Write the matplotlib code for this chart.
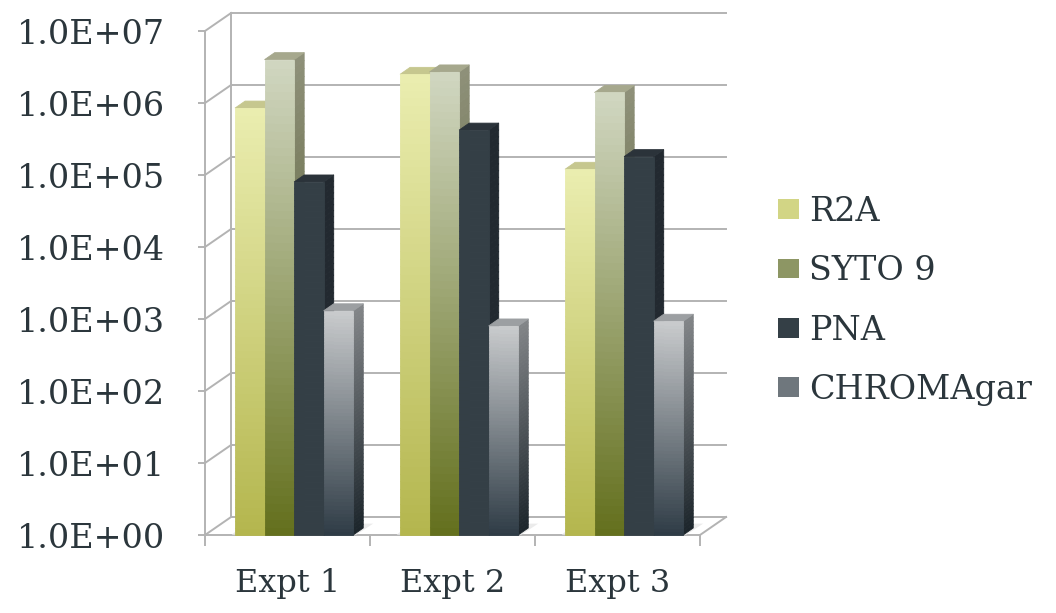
import numpy as np
import matplotlib
matplotlib.use("Agg")
from matplotlib import pyplot as plt
from matplotlib.collections import PolyCollection
from matplotlib.patches import Patch, Polygon
from matplotlib.ticker import FixedLocator, FixedFormatter
from matplotlib.colors import to_rgb

# data (CFU, log scale)
categories = ["Expt 1", "Expt 2", "Expt 3"]
series = ["R2A", "SYTO 9", "PNA", "CHROMAgar"]
r2a = [8.5e5, 2.5e6, 1.2e5]
syto9 = [4.0e6, 2.7e6, 1.4e6]
pna = [8.0e4, 4.2e5, 1.8e5]
chromagar = [1.3e3, 8.0e2, 9.3e2]
ytick_vals = [1e0, 1e1, 1e2, 1e3, 1e4, 1e5, 1e6, 1e7]
ytick_labels = ["1.0E+00", "1.0E+01", "1.0E+02", "1.0E+03",
                "1.0E+04", "1.0E+05", "1.0E+06", "1.0E+07"]

values = [r2a, syto9, pna, chromagar]

# (front top, front bottom, side top, side bottom, top face)
styles = [
    ("#EAEDAF", "#B4B64E", "#BDBF84", "#8A8C3A", "#C6C78F"),
    ("#D0D6C0", "#64701E", "#8E9079", "#434C16", "#A6A88D"),
    ("#343F46", "#343F46", "#222930", "#222930", "#2B333A"),
    ("#C8CACC", "#2F3C46", "#828588", "#1C252B", "#9C9FA2"),
]
legend_colors = ["#D2D585", "#8D9664", "#343F46", "#6F777D"]

text_color = "#2B363C"
grid_color = "#B3B3B3"
font = "DejaVu Serif"

# depth of the 3d look, in axis units (x) and decades (y)
bar_w = 0.179
group_off = 0.182
bar_dx = 0.061
bar_dy = 10 ** (7 / 72.0)
wall_dx = 0.158
wall_dy = 10 ** (18 / 72.0)
nslice = 60


def mix(c1, c2, t):
    a = np.array(to_rgb(c1))
    b = np.array(to_rgb(c2))
    return tuple(a + (b - a) * t)


fig = plt.figure(figsize=(10.56, 6.13), dpi=100)
ax = fig.add_axes([205 / 1056, 78 / 613, 495 / 1056, 504 / 613])
ax.set_yscale("log")
ax.set_xlim(0, 3)
ax.set_ylim(1, 1e7)
for s in ax.spines.values():
    s.set_visible(False)

# walls and floor
gl = dict(color=grid_color, lw=1.4, clip_on=False, zorder=1)
ax.plot([0, 0], [1, 1e7], **gl)
ax.plot([wall_dx, wall_dx], [wall_dy, 1e7 * wall_dy], **gl)
for v in ytick_vals:
    ax.plot([0, wall_dx], [v, v * wall_dy], **gl)
    ax.plot([wall_dx, 3 + wall_dx], [v * wall_dy, v * wall_dy], **gl)
ax.plot([0, 3], [1, 1], **gl)
ax.plot([3, 3 + wall_dx], [1, wall_dy], **gl)

# bars
for g in range(len(categories)):
    x0 = g + group_off
    # soft shadow on the floor
    gw = 4 * bar_w
    sh = Polygon([(x0 - 0.02, 1.01), (x0 + gw + 0.02, 1.01),
                  (x0 + gw + bar_dx + 0.06, bar_dy * 1.15),
                  (x0 + bar_dx, bar_dy * 1.15)],
                 closed=True, facecolor="#EBEBEB", edgecolor="none",
                 zorder=2, clip_on=False)
    ax.add_patch(sh)
    for i, vals in enumerate(values):
        v = vals[g]
        ft, fb, st, sb, tp = styles[i]
        xl = x0 + i * bar_w
        xr = xl + bar_w
        edges = np.logspace(0, np.log10(v), nslice + 1)
        ts = np.linspace(1, 0, nslice)  # 1 at bottom -> dark
        fcols = [mix(ft, fb, t) for t in ts]
        scols = [mix(st, sb, t) for t in ts]
        z = 3 + g * 10 + i * 2
        # side face
        side = [[(xr, edges[k]), (xr + bar_dx, edges[k] * bar_dy),
                 (xr + bar_dx, edges[k + 1] * bar_dy), (xr, edges[k + 1])]
                for k in range(nslice)]
        ax.add_collection(PolyCollection(side, facecolors=scols, edgecolors=scols,
                                         linewidths=0.6, zorder=z, clip_on=False))
        # top face
        ax.add_patch(Polygon([(xl, v), (xr, v), (xr + bar_dx, v * bar_dy),
                              (xl + bar_dx, v * bar_dy)], closed=True,
                             facecolor=tp, edgecolor=tp, lw=0.6, zorder=z,
                             clip_on=False))
        # front face
        ax.bar([xl] * nslice, np.diff(edges), bottom=edges[:-1], width=bar_w,
               align="edge", color=fcols, edgecolor=fcols, linewidth=0.6,
               zorder=z + 1, clip_on=False)

# ticks
ax.yaxis.set_major_locator(FixedLocator(ytick_vals))
ax.yaxis.set_major_formatter(FixedFormatter(ytick_labels))
ax.yaxis.set_minor_locator(FixedLocator([]))
ax.tick_params(axis="y", which="major", direction="out", length=5, width=1.4,
               color=grid_color, pad=24, labelsize=24, labelcolor=text_color)
ax.xaxis.set_major_locator(FixedLocator([0.5, 1.5, 2.5]))
ax.xaxis.set_major_formatter(FixedFormatter(categories))
ax.xaxis.set_minor_locator(FixedLocator([0, 1, 2, 3]))
ax.tick_params(axis="x", which="major", length=0, pad=24, labelsize=23,
               labelcolor=text_color)
ax.tick_params(axis="x", which="minor", direction="out", length=8, width=1.4,
               color=grid_color)
for lab in ax.get_xticklabels() + ax.get_yticklabels():
    lab.set_fontfamily(font)

handles = [Patch(facecolor=c, edgecolor="none") for c in legend_colors]
leg = fig.legend(handles, series, loc="center left",
                 bbox_to_anchor=(748 / 1056, 1 - 301 / 613), frameon=False,
                 prop={"family": font, "size": 24}, handlelength=0.62,
                 handleheight=0.52, handletextpad=0.3, labelspacing=0.82)
for t in leg.get_texts():
    t.set_color(text_color)

fig.savefig("out.png", dpi=100)
